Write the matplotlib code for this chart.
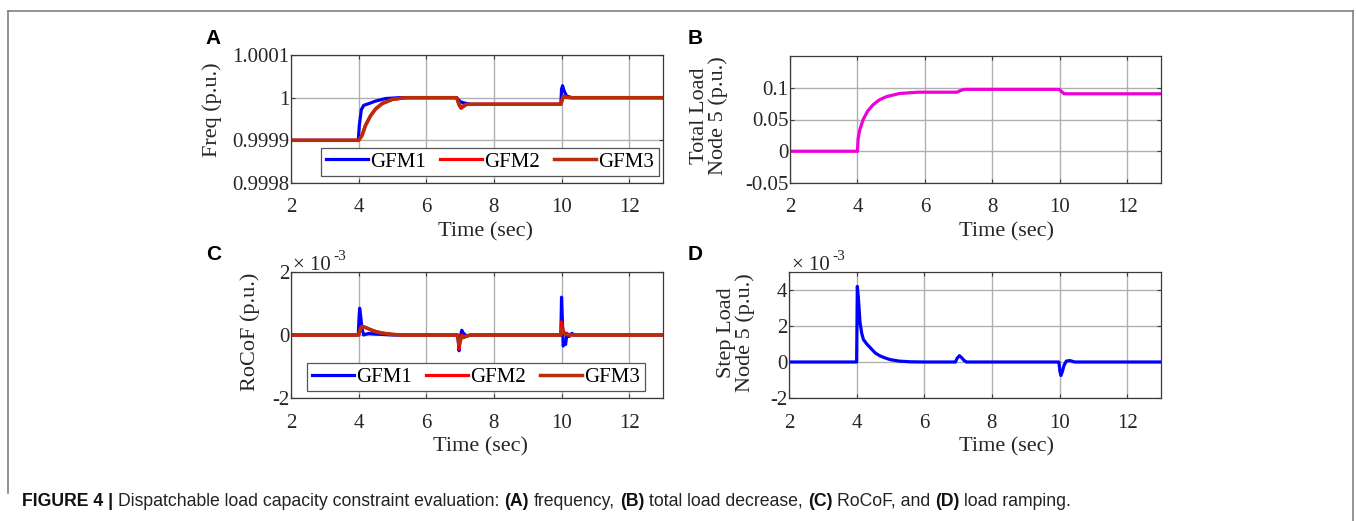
import matplotlib
matplotlib.use("Agg")
import matplotlib.pyplot as plt
from matplotlib.lines import Line2D

# ---------------- data ----------------
xticks = [2, 4, 6, 8, 10, 12]

# (A) frequency, p.u.
t_f1 = [2, 3.99, 4.02, 4.08, 4.15, 4.3, 4.5, 4.8, 5.2, 6.9, 6.95, 7.02, 7.1, 7.3,
        9.98, 10.0, 10.03, 10.08, 10.15, 10.3, 13]
f_gfm1 = [0.99990, 0.99990, 0.999935, 0.999972, 0.999982, 0.999986, 0.999992, 0.999998,
          1.0, 1.0, 0.999995, 0.999990, 0.999988, 0.9999845, 0.9999845, 1.000020,
          1.000028, 1.000015, 1.000004, 1.0, 1.0]
t_f2 = [2, 4.0, 4.1, 4.2, 4.35, 4.5, 4.7, 5.0, 5.4, 6.9, 6.97, 7.03, 7.1, 7.2,
        9.98, 10.05, 10.12, 10.25, 13]
f_gfm2 = [0.99990, 0.99990, 0.999912, 0.999935, 0.999958, 0.999974, 0.999987, 0.999996,
          1.0, 1.0, 0.999982, 0.999975, 0.999979, 0.9999845, 0.9999845, 1.000004,
          1.000002, 1.0, 1.0]
f_gfm3 = [0.99990, 0.99990, 0.999911, 0.999934, 0.999957, 0.999973, 0.999986, 0.999996,
          1.0, 1.0, 0.999984, 0.999978, 0.999981, 0.9999845, 0.9999845, 1.000002,
          1.000001, 1.0, 1.0]

# (B) total load node 5, p.u.
t_load = [2, 3.99, 4.0, 4.02, 4.07, 4.17, 4.3, 4.46, 4.65, 4.86, 5.25, 5.8, 6.95,
          7.05, 7.17, 9.98, 10.05, 10.13, 13]
total_load = [0, 0, 0.0, 0.02, 0.034, 0.05, 0.063, 0.073, 0.081, 0.086, 0.091, 0.093,
              0.093, 0.0955, 0.0975, 0.0975, 0.094, 0.0905, 0.0905]

# (C) RoCoF, x1e-3 p.u.
t_r1 = [2, 3.99, 4.01, 4.03, 4.06, 4.1, 4.15, 4.2, 4.3, 4.5, 5.0, 6.9, 6.94, 6.97,
        7.0, 7.05, 7.1, 7.2, 7.35, 9.98, 10.0, 10.02, 10.05, 10.08, 10.12, 10.16,
        10.22, 10.3, 10.4, 13]
rocof_gfm1 = [0, 0, 0.5, 0.85, 0.6, 0.2, 0.0, 0.02, 0.05, 0.03, 0, 0, -0.1, -0.5,
              -0.1, 0.15, 0.05, -0.03, 0, 0, 1.2, 0.6, -0.35, -0.2, -0.3, 0.05,
              -0.05, 0.05, 0, 0]
t_r2 = [2, 4.0, 4.05, 4.1, 4.2, 4.35, 4.5, 4.7, 5.0, 5.3, 6.93, 6.97, 7.0, 7.05,
        7.1, 7.2, 7.3, 9.98, 10.0, 10.02, 10.06, 10.12, 10.2, 10.3, 13]
rocof_gfm2 = [0, 0, 0.2, 0.28, 0.24, 0.17, 0.11, 0.06, 0.02, 0, 0, -0.45, -0.2, 0.0,
              -0.08, -0.03, 0, 0, 0.42, 0.3, 0.1, 0.05, 0.02, 0, 0]
rocof_gfm3 = [0, 0, 0.18, 0.27, 0.24, 0.17, 0.11, 0.06, 0.02, 0, 0, -0.3, -0.2, -0.05,
              -0.08, -0.03, 0, 0, 0.2, 0.15, 0.08, 0.02, 0, 0, 0]

# (D) step load node 5, x1e-3 p.u.
t_step = [2, 3.99, 4.0, 4.02, 4.05, 4.1, 4.15, 4.2, 4.3, 4.4, 4.55, 4.7, 4.85, 5.0,
          5.25, 5.6, 6.0, 6.92, 6.97, 7.04, 7.1, 7.18, 7.25, 9.98, 10.01, 10.04,
          10.08, 10.13, 10.2, 10.3, 10.45, 13]
step_load = [0, 0, 0, 4.2, 3.6, 2.2, 1.6, 1.25, 1.0, 0.8, 0.5, 0.33, 0.22, 0.13,
             0.05, 0.01, 0, 0, 0.2, 0.35, 0.25, 0.08, 0, 0, -0.5, -0.75, -0.55,
             -0.2, 0.05, 0.08, 0, 0]

gfm_names = ["GFM1", "GFM2", "GFM3"]
caption_parts = ["FIGURE 4 |", "Dispatchable load capacity constraint evaluation:",
                 "(A)", "frequency,", "(B)", "total load decrease,", "(C)",
                 "RoCoF, and", "(D)", "load ramping."]
caption_bold = [True, False, True, False, True, False, True, False, True, False]

# ---------------- style ----------------
W, H = 1356, 521
SERIF = ["Liberation Serif", "DejaVu Serif"]
SANS = ["Liberation Sans", "DejaVu Sans"]
plt.rcParams["font.family"] = SERIF
C_BLUE, C_RED, C_BROWN, C_MAG = "#0000FF", "#FF0000", "#B92D0A", "#EE00D8"
GRID = "#b0b0b0"
SPINE = "#3a3a3a"
TXT = "#262626"

fig = plt.figure(figsize=(W / 100, H / 100), dpi=100)


def px_axes(l, r, t, b):
    return fig.add_axes([l / W, 1 - b / H, (r - l) / W, (b - t) / H])


def style(ax, ylim, yticks, yticklabels, xpad):
    ax.set_xlim(2, 13)
    ax.set_ylim(*ylim)
    ax.set_xticks(xticks)
    ax.set_yticks(yticks)
    ax.set_yticklabels(yticklabels)
    ax.grid(True, color=GRID, lw=1.0)
    ax.set_axisbelow(True)
    for s in ax.spines.values():
        s.set_color(SPINE)
        s.set_linewidth(0.9)
    ax.tick_params(direction="in", length=3, width=0.8, color=SPINE,
                   labelsize=15, top=True, right=True, labelcolor=TXT)
    ax.tick_params(axis="x", pad=xpad)
    ax.tick_params(axis="y", pad=1)


def ftext(x, y, s, **kw):
    return fig.text(x / W, 1 - y / H, s, **kw)


# (A)
axA = px_axes(291, 663, 55, 183)
axA.plot(t_f1, f_gfm1, color=C_BLUE, lw=2.3, label=gfm_names[0])
axA.plot(t_f2, f_gfm2, color=C_RED, lw=2.3, label=gfm_names[1])
axA.plot(t_f2, f_gfm3, color=C_BROWN, lw=2.5, label=gfm_names[2])
style(axA, (0.9998, 1.0001), [0.9998, 0.9999, 1.0, 1.0001],
      ["0.9998", "0.9999", "1", "1.0001"], 10.5)

# (B)
axB = px_axes(790, 1161, 56, 183)
axB.plot(t_load, total_load, color=C_MAG, lw=2.3)
style(axB, (-0.05, 0.15), [-0.05, 0, 0.05, 0.1], ["-0.05", "0", "0.05", "0.1"], 10.5)

# (C)
axC = px_axes(291, 663, 272, 398)
axC.plot(t_r1, rocof_gfm1, color=C_BLUE, lw=2.3, label=gfm_names[0])
axC.plot(t_r2, rocof_gfm2, color=C_RED, lw=2.3, label=gfm_names[1])
axC.plot(t_r2, rocof_gfm3, color=C_BROWN, lw=2.5, label=gfm_names[2])
style(axC, (-2, 2), [-2, 0, 2], ["-2", "0", "2"], 11.5)

# (D)
axD = px_axes(789, 1161, 272, 398)
axD.plot(t_step, step_load, color=C_BLUE, lw=2.3)
style(axD, (-2, 5), [-2, 0, 2, 4], ["-2", "0", "2", "4"], 11.5)

# legends
for ax, cx, cy in [(axA, 490, 162), (axC, 476, 377)]:
    leg = ax.legend(loc="center", bbox_to_anchor=(cx / W, 1 - cy / H),
                    bbox_transform=fig.transFigure, ncol=3, fontsize=15,
                    frameon=True, fancybox=False, handlelength=2.05,
                    handletextpad=0.1, columnspacing=0.65, borderpad=0.2,
                    borderaxespad=0)
    leg.get_frame().set_edgecolor("#555555")
    leg.get_frame().set_linewidth(0.9)
    leg.get_frame().set_alpha(1)

# x labels
for x, y in [(485, 232), (1007, 232), (481, 447), (1007, 447)]:
    ftext(x, y, "Time (sec)", ha="center", va="center", fontsize=16, color=TXT)

# y labels
ftext(212, 110, "Freq (p.u.)", rotation=90, ha="center", va="center", fontsize=16,
      color=TXT)
ftext(709, 116, "Total Load\nNode 5 (p.u.)", rotation=90, ha="center", va="center",
      fontsize=16, color=TXT, multialignment="center", linespacing=1.0)
ftext(250, 332, "RoCoF (p.u.)", rotation=90, ha="center", va="center", fontsize=16,
      color=TXT)
ftext(736, 333, "Step Load\nNode 5 (p.u.)", rotation=90, ha="center", va="center",
      fontsize=16, color=TXT, multialignment="center", linespacing=1.0)

# exponent labels
for x0 in (293, 792):
    ftext(x0, 266, "\u00d7 10", ha="left", va="center", fontsize=15, color=TXT)
    ftext(x0 + 40, 257, "-3", ha="left", va="center", fontsize=11, color=TXT)

# panel letters
for x, y, s in [(213, 38, "A"), (695, 38, "B"), (214, 255, "C"), (695, 255, "D")]:
    ftext(x, y, s, ha="center", va="center", fontsize=15, fontweight="bold",
          family=SANS)

# caption
fig.canvas.draw()
renderer = fig.canvas.get_renderer()
xcur = 22
for part, bold in zip(caption_parts, caption_bold):
    t = ftext(xcur, 501, part, ha="left", va="center", fontsize=12.7,
              fontweight="bold" if bold else "normal", family=SANS,
              color="#111111" if bold else "#222222")
    bb = t.get_window_extent(renderer)
    xcur = bb.x1 + 4.9

# outer frame
frame_c = "#808080"
fig.add_artist(Line2D([8 / W, 8 / W], [1 - 493 / H, 1 - 11 / H], color=frame_c, lw=1.2,
                      transform=fig.transFigure))
fig.add_artist(Line2D([8 / W, 1353 / W], [1 - 11 / H, 1 - 11 / H], color=frame_c, lw=1.2,
                      transform=fig.transFigure))
fig.add_artist(Line2D([1353 / W, 1353 / W], [1 - 11 / H, 0], color=frame_c, lw=1.2,
                      transform=fig.transFigure))

fig.savefig("out.png", dpi=100)
